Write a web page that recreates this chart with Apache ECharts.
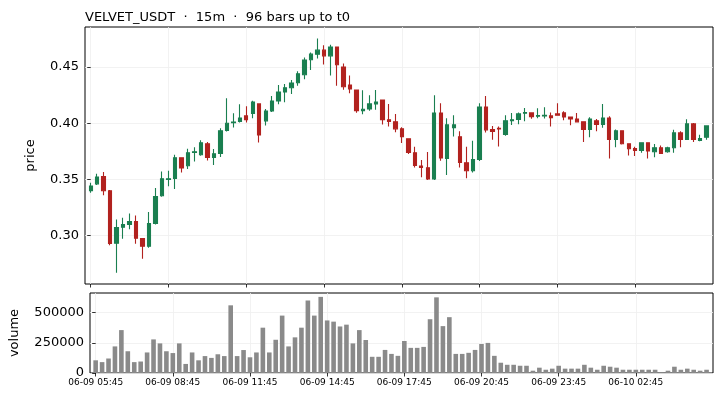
<!DOCTYPE html>
<html><head><meta charset="utf-8">
<script src="https://cdn.jsdelivr.net/npm/echarts@6/dist/echarts.min.js"></script>
<style>html,body{margin:0;padding:0;background:#fff}#c{width:721px;height:400px}</style>
</head><body><div id="c"></div>
<script>
const titleText = 'VELVET_USDT  ·  15m  ·  96 bars up to t0';
const opens = [0.340,0.346,0.3524,0.3399,0.2932,0.3074,0.3098,0.3124,0.2973,0.2905,0.3107,0.3354,0.3500,0.3509,0.3692,0.3621,
0.3740,0.3719,0.3817,0.3695,0.3730,0.3935,0.4005,0.4015,0.4065,0.4086,0.4172,0.4021,0.4109,0.4198,0.4278,0.4316,
0.4361,0.4432,0.4565,0.4615,0.4651,0.4600,0.4678,0.4500,0.4340,0.4296,0.4112,0.4127,0.4172,0.4207,0.4030,0.4012,
0.3950,0.3861,0.3737,0.3619,0.3604,0.3503,0.4091,0.3686,0.3961,0.3879,0.3648,0.3577,0.3677,0.4145,0.3944,0.3955,
0.3899,0.4023,0.4033,0.4089,0.4092,0.4062,0.4065,0.4065,0.4083,0.4092,0.4056,0.4038,0.4012,0.3944,0.4021,0.3988,
0.4047,0.3855,0.3932,0.3817,0.3775,0.3757,0.3825,0.3746,0.3781,0.3746,0.3781,0.3914,0.3855,0.3994,0.3846,0.3876];
const closes = [0.344,0.352,0.3399,0.2929,0.3071,0.3098,0.3124,0.2976,0.2905,0.3107,0.3346,0.3506,0.3506,0.3692,0.3601,0.3737,
0.3745,0.3825,0.3695,0.3728,0.3932,0.4000,0.4010,0.4047,0.4032,0.4189,0.3896,0.4109,0.4198,0.4278,0.4316,0.4358,
0.4441,0.4562,0.4615,0.4651,0.4600,0.4678,0.4521,0.4325,0.4305,0.4112,0.4124,0.4172,0.4189,0.4032,0.4015,0.3950,
0.3881,0.3739,0.3624,0.3606,0.3503,0.4091,0.3690,0.3985,0.3985,0.3651,0.3577,0.3677,0.4145,0.3941,0.3926,0.3948,
0.4021,0.4030,0.4083,0.4095,0.4059,0.4068,0.4070,0.4050,0.4071,0.4056,0.4038,0.4012,0.3944,0.4038,0.3988,0.4047,
0.3855,0.3932,0.3817,0.3772,0.3757,0.3825,0.3752,0.3781,0.3730,0.3781,0.3914,0.3855,0.3994,0.3855,0.3864,0.3976];
const lows = [0.338,0.345,0.3358,0.2914,0.2669,0.2971,0.3056,0.2926,0.2793,0.2891,0.3098,0.3346,0.3438,0.3415,0.3562,0.3592,
0.3660,0.3710,0.3668,0.3628,0.3699,0.3926,0.3961,0.4006,0.4006,0.4045,0.3828,0.3979,0.4101,0.4169,0.4187,0.4260,
0.4334,0.4391,0.4473,0.4577,0.4524,0.4426,0.4334,0.4298,0.4267,0.4094,0.4080,0.4112,0.4121,0.3988,0.3970,0.3920,
0.3823,0.3725,0.3606,0.3518,0.3494,0.3494,0.3666,0.3539,0.3881,0.3606,0.3509,0.3562,0.3663,0.3917,0.3852,0.3793,
0.3888,0.3985,0.3991,0.4018,0.4039,0.4045,0.4041,0.3970,0.4071,0.4027,0.3982,0.4012,0.3832,0.3876,0.3929,0.3959,
0.3686,0.3787,0.3810,0.3713,0.3707,0.3737,0.3686,0.3698,0.3728,0.3737,0.3737,0.3787,0.3855,0.3832,0.3840,0.3852];
const highs = [0.347,0.355,0.3565,0.3405,0.3142,0.3157,0.3195,0.3178,0.2976,0.3210,0.3423,0.3571,0.3577,0.3719,0.3695,0.3772,
0.3787,0.3849,0.3832,0.3770,0.3956,0.4222,0.4089,0.4169,0.4151,0.4201,0.4175,0.4127,0.4243,0.4340,0.4349,0.4385,
0.4462,0.4586,0.4630,0.4755,0.4695,0.4698,0.4680,0.4533,0.4426,0.4298,0.4293,0.4249,0.4296,0.4209,0.4172,0.4083,
0.3965,0.3863,0.3790,0.3672,0.3743,0.4249,0.4178,0.4045,0.4071,0.3929,0.3790,0.3843,0.4178,0.4243,0.3976,0.3970,
0.4071,0.4092,0.4095,0.4136,0.4095,0.4133,0.4142,0.4095,0.4178,0.4107,0.4058,0.4092,0.4014,0.4053,0.4038,0.4172,
0.4062,0.3944,0.3934,0.3819,0.3790,0.3827,0.3827,0.3814,0.3802,0.3790,0.3941,0.3929,0.4036,0.4003,0.3897,0.3978];
const volumes = [105000,90000,120000,220000,355000,180000,90000,95000,170000,278000,245000,180000,165000,245000,75000,170000,
105000,140000,125000,155000,140000,560000,140000,190000,130000,170000,375000,170000,275000,475000,220000,295000,
375000,600000,475000,630000,435000,425000,385000,400000,245000,355000,273000,134000,134000,191000,158000,142000,
265000,208000,208000,216000,445000,626000,388000,462000,158000,158000,167000,191000,240000,249000,142000,85000,
68000,68000,60000,60000,19000,44000,27000,36000,60000,36000,36000,36000,68000,44000,27000,60000,
52000,44000,27000,27000,27000,27000,27000,27000,3000,19000,52000,27000,36000,27000,19000,27000];
const tickIdx = [0,12,24,36,48,60,72,84];
const tickLabels = ['06-09 05:45','06-09 08:45','06-09 11:45','06-09 14:45','06-09 17:45','06-09 20:45','06-09 23:45','06-10 02:45'];
const priceTicks = [0.30,0.35,0.40,0.45];
const volTicks = [0,250000,500000];

const UP = '#1a7f50', DOWN = '#b2221f', VOL = '#8a8a8a';
const FONT = 'DejaVu Sans';
const candleData = opens.map((o,i)=>[i,o,closes[i],lows[i],highs[i]]);
const volData = volumes.map((v,i)=>[i,v]);

const chart = echarts.init(document.getElementById('c'), null, {renderer:'canvas'});
const gridLine = {show:true, lineStyle:{color:'#efefef', width:0.8}};
const xBase = (gi, showLabel) => ({
  type:'value', gridIndex:gi, min:-0.88, max:96.0,
  axisLine:{show:false},
  axisTick:{show:true, inside:false, length:3.5, lineStyle:{color:'#000', width:0.8}, customValues:tickIdx},
  axisLabel:{show:showLabel, customValues:tickIdx, fontFamily:FONT, fontSize:9, color:'#000', margin:5,
    formatter:v=>tickLabels[tickIdx.indexOf(Math.round(v))] || ''},
  splitLine:gridLine
});
chart.setOption({
  animation:false,
  backgroundColor:'#fff',
  title:{text:titleText, left:80, top:6, textStyle:{fontFamily:FONT, fontSize:13, fontWeight:'normal', color:'#000'}},
  grid:[
    {left:85, right:8, top:27, height:257, show:true, borderColor:'#000', borderWidth:1, backgroundColor:'transparent'},
    {left:85, right:8, top:293, height:80, show:true, borderColor:'#000', borderWidth:1, backgroundColor:'transparent'}
  ],
  xAxis:[xBase(0,false), xBase(1,true)],
  yAxis:[
    {type:'value', gridIndex:0, min:0.2568, max:0.4857, scale:true,
     name:'price', nameLocation:'middle', nameGap:48, nameTextStyle:{fontFamily:FONT, fontSize:13, color:'#000'},
     axisLine:{show:false},
     axisTick:{show:true, length:3.5, lineStyle:{color:'#000', width:0.8}, customValues:priceTicks},
     axisLabel:{customValues:priceTicks, fontFamily:FONT, fontSize:13, color:'#000', margin:6, formatter:v=>v.toFixed(2)},
     splitLine:gridLine},
    {type:'value', gridIndex:1, min:0, max:662000,
     name:'volume', nameLocation:'middle', nameGap:69, nameTextStyle:{fontFamily:FONT, fontSize:13, color:'#000'},
     axisLine:{show:false},
     axisTick:{show:true, length:3.5, lineStyle:{color:'#000', width:0.8}, customValues:volTicks},
     axisLabel:{customValues:volTicks, fontFamily:FONT, fontSize:13, color:'#000', margin:6, formatter:v=>String(Math.round(v))},
     splitLine:gridLine}
  ],
  series:[
    {type:'candlestick', xAxisIndex:0, yAxisIndex:0, data:candleData, encode:{x:0, y:[1,2,3,4]},
     barWidth:3.9,
     itemStyle:{color:UP, color0:DOWN, borderColor:UP, borderColor0:DOWN, borderWidth:1.1}},
    {type:'bar', xAxisIndex:1, yAxisIndex:1, data:volData, barWidth:4.6, itemStyle:{color:VOL}}
  ]
});
</script></body></html>
